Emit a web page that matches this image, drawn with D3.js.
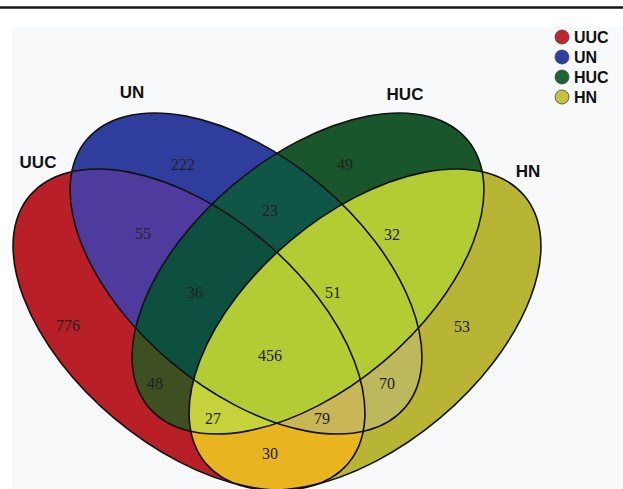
<!DOCTYPE html>
<html>
<head>
<meta charset="utf-8">
<script src="https://cdn.jsdelivr.net/npm/d3@7"></script>
<style>
  html, body { margin: 0; padding: 0; background: #ffffff; }
  svg { display: block; }
</style>
</head>
<body>
<script>
// ---- data ----
const sets = ["UUC", "UN", "HUC", "HN"];
const setColors = ["#c0262c", "#2d3fa6", "#1c6433", "#c4c43a"];

// each region: the sets it belongs to, its count and its fill
const regionSets = [[0], [1], [2], [3], [0, 1], [1, 2], [2, 3], [0, 3], [0, 2], [1, 3],
                    [0, 1, 2], [1, 2, 3], [0, 2, 3], [0, 1, 3], [0, 1, 2, 3]];
const regionCounts = [776, 222, 49, 53, 55, 23, 32, 30, 48, 70, 36, 51, 27, 79, 456];
const regionFills = ["#b81f26", "#2f3e9c", "#1a562c", "#b8b535", "#4f3b9e", "#0f5646",
                     "#b3cc33", "#e8b520", "#3e4f22", "#bdb85b", "#0e5040", "#b3cc33",
                     "#c6d23c", "#c9b657", "#b3cc33"];

// ---- layout (unit coordinates) ----
const ellipseLayout = [
  { cx: 0.324, cy: 0.612, rot: 40 },
  { cx: 0.438, cy: 0.500, rot: 40 },
  { cx: 0.562, cy: 0.500, rot: -40 },
  { cx: 0.676, cy: 0.612, rot: -40 }
];
const semiMajor = 0.416, semiMinor = 0.232;
const regionLabelAt = [[0.082, 0.603], [0.312, 0.281], [0.636, 0.281], [0.870, 0.605],
                       [0.232, 0.419], [0.486, 0.373], [0.730, 0.421], [0.486, 0.859],
                       [0.256, 0.719], [0.720, 0.719], [0.336, 0.537], [0.612, 0.537],
                       [0.372, 0.789], [0.590, 0.789], [0.486, 0.663]];
const setLabelAt = [[0.022, 0.289], [0.210, 0.149], [0.756, 0.153], [1.002, 0.307]];

const W = 623, H = 489;
const x = d3.scaleLinear().domain([0, 1]).range([27, 527]);
const y = d3.scaleLinear().domain([0, 1]).range([23.5, 523.5]);
const rx = x(semiMajor) - x(0), ry = y(semiMinor) - y(0);

const svg = d3.select("body").append("svg").attr("width", W).attr("height", H);

// panel background and top rule
svg.append("rect").attr("x", 12).attr("y", 27).attr("width", W - 12).attr("height", H - 27)
  .attr("fill", "#f8f9fb");
svg.append("line").attr("x1", 0).attr("x2", W).attr("y1", 7.5).attr("y2", 7.5)
  .attr("stroke", "#151515").attr("stroke-width", 2.5);

const defs = svg.append("defs");
ellipseLayout.forEach((e, i) => {
  defs.append("clipPath").attr("id", "clip-" + i)
    .append("ellipse")
    .attr("cx", 0).attr("cy", 0).attr("rx", rx).attr("ry", ry)
    .attr("transform", `translate(${x(e.cx)},${y(e.cy)}) rotate(${e.rot})`);
});

// paint intersections from smallest to largest so every pixel ends with its exact region
const order = d3.range(regionSets.length).sort((a, b) => regionSets[a].length - regionSets[b].length);
const regionLayer = svg.append("g");
order.forEach(r => {
  let g = regionLayer;
  regionSets[r].forEach(s => { g = g.append("g").attr("clip-path", `url(#clip-${s})`); });
  g.append("rect").attr("x", 0).attr("y", 0).attr("width", W).attr("height", H)
    .attr("fill", regionFills[r]);
});

// outlines
svg.append("g").selectAll("ellipse").data(ellipseLayout).join("ellipse")
  .attr("cx", 0).attr("cy", 0).attr("rx", rx).attr("ry", ry)
  .attr("transform", d => `translate(${x(d.cx)},${y(d.cy)}) rotate(${d.rot})`)
  .attr("fill", "none").attr("stroke", "#111").attr("stroke-width", 1.6);

// counts
svg.append("g").selectAll("text").data(regionCounts).join("text")
  .attr("x", (d, i) => x(regionLabelAt[i][0]))
  .attr("y", (d, i) => y(regionLabelAt[i][1]))
  .attr("dy", "0.35em")
  .attr("text-anchor", "middle")
  .attr("font-family", "'Liberation Serif', 'Times New Roman', serif")
  .attr("font-size", 16).attr("fill", "#222")
  .text(d => d);

// set names
svg.append("g").selectAll("text").data(sets).join("text")
  .attr("x", (d, i) => x(setLabelAt[i][0]))
  .attr("y", (d, i) => y(setLabelAt[i][1]))
  .attr("text-anchor", "middle")
  .attr("font-family", "'Liberation Sans', Arial, sans-serif")
  .attr("font-weight", "bold").attr("font-size", 17).attr("fill", "#111")
  .text(d => d);

// legend
const legend = svg.append("g").attr("transform", "translate(562,37)");
const item = legend.selectAll("g").data(sets).join("g")
  .attr("transform", (d, i) => `translate(0,${i * 20})`);
item.append("circle").attr("r", 7).attr("fill", (d, i) => setColors[i])
  .attr("stroke", "#444").attr("stroke-width", 0.8);
item.append("text").attr("x", 12).attr("y", 5.5)
  .attr("font-family", "'Liberation Sans', Arial, sans-serif")
  .attr("font-weight", "bold").attr("font-size", 16).attr("fill", "#111")
  .text(d => d);
</script>
</body>
</html>
